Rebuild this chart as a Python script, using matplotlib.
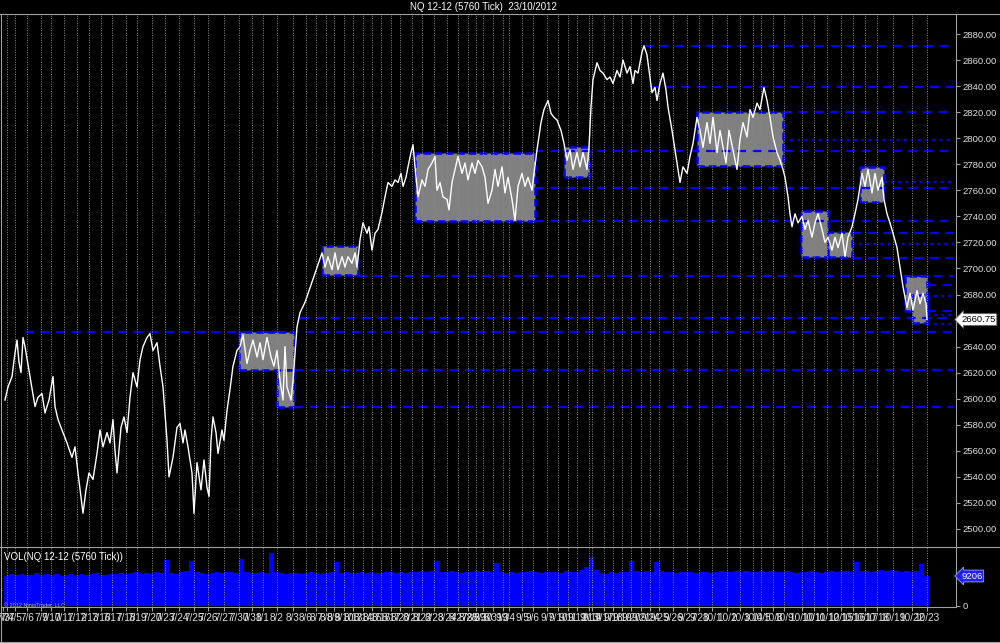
import matplotlib.pyplot as plt
from matplotlib.patches import Rectangle
from matplotlib.lines import Line2D

plt.rcParams['font.family'] = ['Liberation Sans Narrow', 'Liberation Sans', 'DejaVu Sans']

# price path (x = tick-bar number, y = price)
bars = [5, 8, 12, 15, 17, 19, 21, 23, 25, 30, 35, 38, 42, 45, 49, 53, 55, 58, 63, 67, 72, 75, 78, 83, 86, 89, 93, 97,
        100, 103, 107, 110, 113, 115, 117, 121, 124, 127, 130, 133, 137, 140, 143, 147, 150, 153, 157, 160, 163, 167,
        169, 173, 177, 180, 183, 185, 188, 192, 194, 197, 201, 204, 207, 209, 211, 213, 216, 218, 222, 224, 227, 230,
        233, 237, 240, 243, 247, 250, 253, 257, 260, 263, 267, 271, 274, 277, 280, 283, 285, 287, 291, 293, 297, 300,
        305, 310, 314, 318,
        322, 325, 328, 332, 335, 338, 342, 345, 348, 352, 355, 357, 360, 363, 367, 369, 372, 375, 378, 382, 385, 388,
        392, 395, 398, 401, 403, 406, 408, 411, 413, 415, 418, 422, 425, 428, 432, 435, 437, 440, 443, 447, 449, 452,
        455, 458, 462, 465, 468, 472, 475, 478,
        482, 485, 488, 492, 495, 498, 502, 505, 508, 512, 515, 518, 522, 525, 528, 532, 534, 537, 541, 544, 548, 551,
        554, 557, 561, 564, 567, 570, 573, 577, 580, 583, 587, 589, 591, 593, 597, 600, 603, 607, 610, 613, 617, 620,
        623, 627, 630, 633, 635, 638, 642, 644, 647, 648,
        652, 655, 657, 660, 663, 666, 668, 672, 675, 678, 680, 683, 687, 690, 693, 697, 700, 703, 707, 710, 713, 717,
        720, 723, 726, 729, 733, 737, 740, 743, 747, 750, 753, 757, 760, 764, 767, 770, 773, 777, 780, 783, 785, 788,
        790,
        792, 795, 798, 802, 805, 808, 812, 815, 818, 822, 825, 828, 832, 835, 838, 842, 845, 848, 852, 855, 858, 862,
        865, 868, 872, 875, 878, 882, 884, 887, 890, 893, 897, 900, 903, 907, 910, 913, 917, 920, 923, 926, 927]
price = [2599, 2609, 2617, 2635, 2645, 2628, 2620, 2647, 2640, 2617, 2594, 2601, 2604, 2589, 2599, 2617, 2594, 2584,
         2574, 2566, 2555, 2563, 2543, 2512, 2530, 2543, 2538, 2558,
         2576, 2563, 2574, 2566, 2584, 2560, 2543, 2578, 2586, 2574, 2601, 2620, 2609, 2630, 2640, 2647, 2650, 2637,
         2643, 2625, 2609, 2568, 2540, 2555, 2578, 2581, 2566, 2576, 2563, 2543, 2512, 2551, 2530, 2553, 2532, 2525,
         2568, 2586, 2574, 2558, 2576, 2568, 2591, 2607, 2625, 2637, 2640, 2649, 2627, 2637, 2645, 2632, 2643, 2630,
         2647, 2632, 2625, 2637, 2614, 2599, 2640, 2609, 2599, 2614, 2655, 2666, 2674, 2685, 2694, 2703,
         2712, 2701, 2709, 2699, 2712, 2699, 2709, 2701, 2709, 2704, 2712, 2701, 2722, 2735, 2727, 2732, 2714, 2727,
         2730, 2743, 2755, 2766, 2763, 2768, 2766, 2773, 2763, 2770, 2778, 2789, 2795, 2778, 2755, 2768, 2763, 2776,
         2781, 2786, 2760, 2766, 2755, 2753, 2745, 2766, 2776, 2786, 2773, 2781, 2768, 2781, 2773, 2783,
         2778, 2770, 2750, 2760, 2776, 2763, 2778, 2758, 2770, 2753, 2737, 2763, 2773, 2763, 2770, 2760, 2773, 2791,
         2812, 2822, 2829, 2819, 2816, 2814, 2806, 2796, 2783, 2791, 2776, 2789, 2778, 2789, 2776, 2793, 2824, 2845,
         2858, 2852, 2850, 2845, 2847, 2842, 2852, 2847, 2860, 2850, 2855, 2842, 2852, 2850, 2866, 2871, 2864, 2858,
         2835, 2839, 2829, 2842, 2850, 2837, 2824, 2806, 2791, 2776, 2766, 2778, 2773, 2786, 2796, 2816, 2806, 2793,
         2812, 2796, 2816, 2789, 2806, 2793, 2781, 2806, 2791, 2776, 2799, 2812, 2801, 2822, 2816, 2827, 2822, 2839,
         2829, 2816, 2801, 2789, 2783, 2776, 2770, 2755, 2742,
         2732, 2742, 2735, 2740, 2730, 2737, 2724, 2735, 2742, 2730, 2720, 2724, 2714, 2724, 2716, 2727, 2709, 2724,
         2732, 2742, 2753, 2773, 2763, 2776, 2758, 2773, 2760, 2770, 2753, 2742, 2735, 2727, 2716, 2701, 2686, 2670,
         2681, 2668, 2683, 2673, 2681, 2673, 2661]
last_price = 2660.75

# volume, one value every 5 bars starting at bar 4
vol_start, vol_step = 4, 5
volume = [9300, 9700, 9500, 9900, 9400, 9600, 10100, 9500, 9800, 9400,
          9700, 9300, 9600, 9900, 9500, 9800, 9400, 9700, 10000, 9600,
          9500, 9800, 9900, 10200, 9700, 10000, 10400, 9800, 10100, 9900,
          10300, 10000, 14100, 10200, 9900, 10300, 10600, 13800, 10400, 10100,
          9900, 10200, 10400, 10000, 10300, 10500, 10100, 14500, 10300, 10000,
          10200, 10400, 10000, 16300, 10300, 10100, 9800, 10000, 10200, 9900,
          10000, 10300, 10100, 9800, 10200, 10400, 13500, 10100, 10300, 10000,
          10200, 10400, 10100, 10300, 10000, 10200, 10500, 10300, 10100, 10400,
          10200, 10500, 10300, 10600, 10400, 10700, 13700, 10500, 10300, 10600,
          10400, 10200, 10500, 10300, 10600, 10400, 10800, 10500, 13200, 10300,
          10100, 10400, 10200, 10500, 10300, 10600, 10400, 10100, 10500, 10300,
          10400, 10200, 10600, 10300, 10500, 11200, 12000, 15000, 10900, 10200,
          9900, 10300, 10100, 10500, 10300, 13900, 10600, 10400, 10700, 10500,
          13600, 10600, 10300, 10500, 10200, 10400, 10300, 10500, 10200, 10400,
          10300, 10100, 10400, 10600, 10300, 10500, 10800, 10400, 10600, 10300,
          10500, 10700, 10400, 10600, 10300, 10500, 10700, 10400, 10200, 10500,
          10300, 10600, 10400, 10200, 10500, 10700, 10400, 10600, 10800, 10500,
          13400, 10600, 10800, 10500, 10700, 11000, 10600, 10900, 10700, 10500,
          10600, 10400, 10700, 12800, 9206]

# sessions: first bar of each day and its label
session_start = [3, 7, 15, 27, 41, 51, 64, 77, 89, 101, 112, 126, 137, 152, 165, 179, 194, 208, 224, 239,
                 252, 263, 277, 293, 306, 316, 326, 334, 344, 353, 363, 372, 381, 391, 400, 412, 422, 434, 447, 458,
                 468, 476, 483, 493, 503, 509, 522, 533, 547, 558, 568, 577, 589, 592, 604, 613, 622, 631, 641, 650,
                 659, 673, 687, 699, 712, 727, 740, 753, 761, 773, 784, 802, 814, 827, 841, 853, 865, 877, 893, 912,
                 927]
session_labels = ['7/3', '7/4', '7/5', '7/6', '7/9', '7/10', '7/11', '7/12', '7/13', '7/16', '7/17', '7/18', '7/19',
                  '7/20', '7/23', '7/24', '7/25', '7/26', '7/27', '7/30', '7/31', '8/1', '8/2', '8/3', '8/6', '8/7',
                  '8/8', '8/9', '8/10', '8/13', '8/14', '8/15', '8/16', '8/17', '8/20', '8/21', '8/22', '8/23', '8/24',
                  '8/27', '8/28', '8/29', '8/30', '8/31', '9/3', '9/4', '9/5', '9/6', '9/7', '9/10', '9/11', '9/12',
                  '9/13', '9/14', '9/17', '9/18', '9/19', '9/20', '9/21', '9/24', '9/25', '9/26', '9/27', '9/28',
                  '10/1', '10/2', '10/3', '10/4', '10/5', '10/8', '10/9', '10/10', '10/11', '10/12', '10/15', '10/16',
                  '10/17', '10/18', '10/19', '10/22', '10/23']

# consolidation zones: first bar, last bar, low, high
zone_x0 = [239, 277, 322, 415, 564, 697, 801, 828, 860, 905, 912]
zone_x1 = [294, 294, 358, 535, 589, 783, 828, 852, 884, 927, 927]
zone_lo = [2622, 2594, 2695, 2736.5, 2770, 2778.6, 2709, 2709, 2751, 2667, 2658]
zone_hi = [2651, 2622, 2717, 2789, 2793, 2820, 2744, 2728, 2778, 2694, 2680]

# support / resistance lines: level, first bar, dashed or dotted
level_price = [2871, 2839, 2820, 2799, 2790, 2766, 2762, 2736.5, 2727, 2719, 2708, 2694.5, 2687, 2679, 2667, 2664,
               2662, 2657, 2651, 2622, 2594]
level_start = [644, 650, 783, 783, 535, 884, 535, 535, 852, 852, 852, 358, 927, 927, 927, 927, 300, 927, 25, 294, 294]
level_kind = ['dash', 'dash', 'dash', 'dot', 'dash', 'dot', 'dash', 'dash', 'dash', 'dot', 'dash', 'dash', 'dash',
              'dot', 'dash', 'dot', 'dash', 'dot', 'dash', 'dash', 'dash']
level_end = 953

W, H = 1000, 643
fig = plt.figure(figsize=(10, 6.43), dpi=100, facecolor='black')
ax = fig.add_axes([2 / W, 1 - 546 / H, 954 / W, 531 / H], facecolor='black')
axv = fig.add_axes([2 / W, 1 - 607 / H, 954 / W, 60 / H], facecolor='black')

grey = '#a0a0a0'
blue = '#0000ff'

for a in (ax, axv):
    a.set_xlim(2, 956)
    for s in a.spines.values():
        s.set_visible(False)
    a.spines['right'].set_visible(True)
    a.spines['right'].set_color(grey)
    a.yaxis.tick_right()
    a.tick_params(axis='both', colors=grey, labelcolor='#e0e0e0', length=3, width=0.8, labelsize=6.8, pad=2)
    for x in session_start[1:]:
        a.axvline(x, color='#8a8a8a', lw=0.7, ls=(0, (1, 1.5)), zorder=3)

# price panel
ax.set_ylim(2486.9, 2894.6)
ax.set_xticks([])
ticks = list(range(2500, 2881, 20))
ax.set_yticks(ticks)
ax.set_yticklabels([f'{t:.2f}' for t in ticks])

for x0, x1, lo, hi in zip(zone_x0, zone_x1, zone_lo, zone_hi):
    ax.add_patch(Rectangle((x0, lo), x1 - x0, hi - lo, fc='#808080', ec=blue, lw=1.8, ls=(0, (3, 1.5)), zorder=2))

for p, x0, k in zip(level_price, level_start, level_kind):
    ls = (0, (4, 3)) if k == 'dash' else (0, (1.2, 2))
    ax.plot([x0, level_end], [p, p], color=blue, lw=1.6, ls=ls, zorder=2)

ax.plot(bars, price, color='white', lw=1.0, zorder=4)
ax.text(961, last_price, f'{last_price:.2f}', color='black', fontsize=6.8, va='center', ha='left', clip_on=False,
        bbox=dict(boxstyle='larrow,pad=0.15', fc='white', ec='#606060', lw=0.6))

# volume panel
axv.set_ylim(-307, 18107)
vol_x = [vol_start + vol_step * i + vol_step / 2 for i in range(len(volume))]
axv.bar(vol_x, volume, width=vol_step, color=blue, edgecolor='none', zorder=2)
axv.spines['bottom'].set_visible(True)
axv.spines['bottom'].set_color(grey)
axv.set_yticks([0])
axv.set_yticklabels(['0'])
axv.set_xticks(session_start)
axv.set_xticklabels(session_labels)
axv.tick_params(axis='x', labelsize=7.2, pad=1.5)
axv.text(961, volume[-1], str(volume[-1]), color='white', fontsize=6.8, va='center', ha='left', clip_on=False,
         bbox=dict(boxstyle='larrow,pad=0.15', fc='#2020ff', ec='#a0a0ff', lw=0.6))

# frame lines and captions
for y in (14, 547, 642):
    fig.add_artist(Line2D([0, 1], [1 - y / H, 1 - y / H], color=grey, lw=0.8))
fig.add_artist(Line2D([1 / W, 1 / W], [1 - 642 / H, 1 - 14 / H], color=grey, lw=0.8))
fig.text(483 / W, 1 - 7 / H, 'NQ 12-12 (5760 Tick)  23/10/2012', color='white', fontsize=7, ha='center', va='center')
fig.text(4 / W, 1 - 557 / H, 'VOL(NQ 12-12 (5760 Tick))', color='white', fontsize=7, ha='left', va='center')
fig.text(4 / W, 1 - 605 / H, '\u00a9 2012 NinjaTrader, LLC', color='#b0b0b0', fontsize=4, ha='left', va='center')

fig.savefig('out.png', dpi=100, facecolor='black')
